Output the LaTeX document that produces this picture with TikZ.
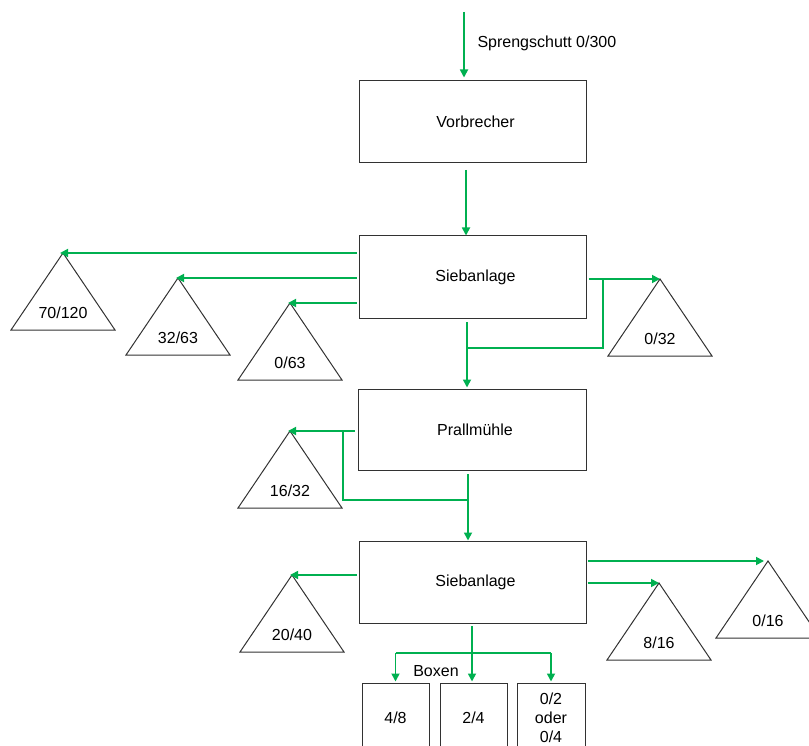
\documentclass[tikz,border=0pt]{standalone}
\usepackage{fontspec}
\setmainfont{Liberation Sans}
\usetikzlibrary{arrows.meta}
\definecolor{flow}{RGB}{0,176,80}
\definecolor{edge}{RGB}{50,50,50}
\newcommand\fs{\fontsize{16}{19}\selectfont}
\newcommand\heap[4]{%
  \coordinate (#1) at (#2,#3);
  \draw[tri] (#1) -- ++(-52,77) -- ++(104,0) -- cycle;
  \node[font=\fs] (#1-l) at (#2,#3+60) {#4};}
\begin{document}
\begin{tikzpicture}[x=1pt,y=-1pt,
  box/.style={draw=edge, line width=1pt, minimum width=227pt, minimum height=82pt, inner sep=0pt, font=\fs},
  bin/.style={draw=edge, line width=1pt, minimum height=70pt, inner sep=0pt, font=\fs, align=center},
  tri/.style={draw=edge, line width=1pt, line join=miter},
  flowline/.style={draw=flow, line width=1.7pt},
  flowarrow/.style={flowline, -{Triangle[length=8pt,width=8pt]}}]
\useasboundingbox (0,0) rectangle (809,746);
\clip (0,0) rectangle (809,746);
% main boxes
\node[box] (vor) at (472.5,122) {\hspace{6pt}Vorbrecher};
\node[box] (sieb1) at (472.5,277) {\hspace{6pt}\raisebox{-2pt}{Siebanlage}};
\node[box, minimum width=228pt, minimum height=81pt] (prall) at (472,429.5) {\hspace{6pt}\raisebox{-2pt}{Prallmühle}};
\node[box] (sieb2) at (472.5,582) {\hspace{6pt}\raisebox{-2pt}{Siebanlage}};
% bins
\node[bin, minimum width=67pt] (b48) at (395.5,718) {\raisebox{-4pt}{4/8}};
\node[bin, minimum width=67pt] (b24) at (473.5,718) {\raisebox{-4pt}{2/4}};
\node[bin, minimum width=68pt] (b02) at (551,718) {0/2\\oder\\0/4};
\node[font=\fs] (boxen) at (436,671) {Boxen};
% heaps
\heap{t70}{63}{253}{70/120}
\heap{t32}{178}{278}{32/63}
\heap{t063}{290}{303}{0/63}
\heap{t032}{660}{279}{0/32}
\heap{t1632}{290}{431}{16/32}
\heap{t2040}{292}{575}{20/40}
\heap{t816}{659}{583}{8/16}
\heap{t016}{768}{561}{0/16}
% input
\coordinate (src) at (464,12);
\draw[flowarrow] (src) -- ([yshift=3pt]src |- vor.north);
\node[font=\fs, anchor=west] (srclbl) at (474,43) {Sprengschutt 0/300};
% Vorbrecher -> Siebanlage
\coordinate (a1) at (466,170);
\draw[flowarrow] (a1) -- (a1 |- sieb1.north);
% Siebanlage 1 outputs
\draw[flowarrow, shorten >=-3pt] ([xshift=-2pt]sieb1.west |- t70) -- (t70);
\draw[flowarrow, shorten >=-2pt] ([xshift=-2pt]sieb1.west |- t32) -- (t32);
\draw[flowarrow, shorten >=-2pt] ([xshift=-2pt]sieb1.west |- t063) -- (t063);
\draw[flowarrow] ([xshift=2pt]sieb1.east |- t032) -- (t032);
\coordinate (m1) at (467,322);
\coordinate (k1) at (603,348);
\draw[flowline] (k1 |- t032) -- (k1) -- (k1 -| m1);
\draw[flowarrow] (m1) -- ([yshift=1pt]m1 |- prall.north);
% Prallmuehle outputs
\draw[flowarrow, shorten >=-2pt] ([xshift=-3pt]prall.west |- t1632) -- (t1632);
\coordinate (m2) at (468,474);
\coordinate (k2) at (343,500);
\draw[flowline] (k2 |- t1632) -- (k2) -- (k2 -| m2);
\draw[flowarrow] (m2) -- (m2 |- sieb2.north);
% Siebanlage 2 outputs
\draw[flowarrow, shorten >=-2pt] ([xshift=-2pt]sieb2.west |- t2040) -- (t2040);
\draw[flowarrow, shorten >=4pt] ([xshift=1pt]sieb2.east |- t016) -- (t016);
\draw[flowarrow] ([xshift=1pt]sieb2.east |- t816) -- (t816);
% to bins
\coordinate (m3) at (472,626);
\coordinate (k3) at (472,653);
\draw[flowarrow] (m3) -- ([yshift=1pt]m3 |- b24.north);
\draw[flowline] (k3 -| b48.north) -- (k3 -| b02.north);
\draw[flowarrow] (k3 -| b48.north) -- ([yshift=1pt]b48.north);
\draw[flowarrow] (k3 -| b02.north) -- ([yshift=1pt]b02.north);
\end{tikzpicture}
\end{document}
